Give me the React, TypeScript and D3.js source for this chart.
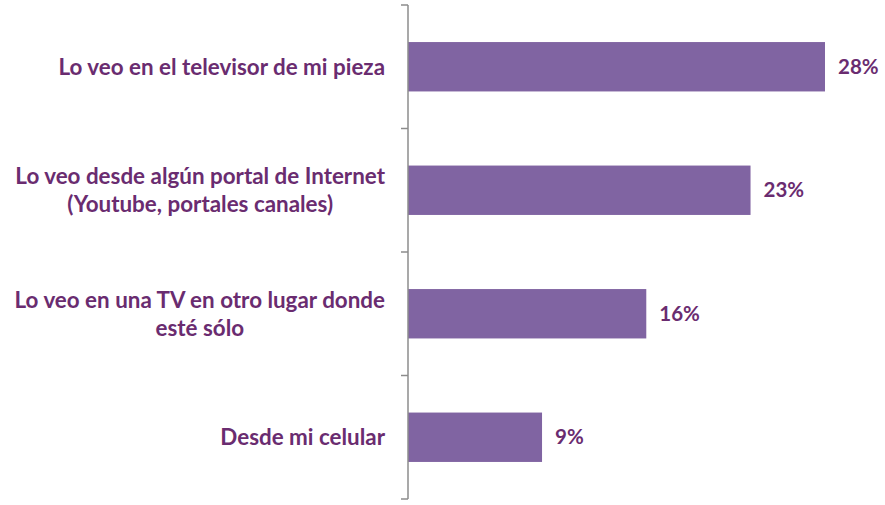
import React, { useEffect, useRef } from "react";
import * as d3 from "d3";

// categories (top to bottom) and values in %
const categories = [
  ["Lo veo en el televisor de mi pieza"],
  ["Lo veo desde algún portal de Internet", "(Youtube, portales canales)"],
  ["Lo veo en una TV en otro lugar donde", "esté sólo"],
  ["Desde mi celular"],
];
const values = [28, 23, 16, 9];
const valueLabels = ["28%", "23%", "16%", "9%"];

const BAR_COLOR = "#8064A2";
const TEXT_COLOR = "#6A2C70";
const AXIS_COLOR = "#8C8C8C";
const FONT = "Lato, 'Open Sans', sans-serif";

function App() {
  const svgRef = useRef<SVGSVGElement>(null);

  useEffect(() => {
    const svg = d3.select(svgRef.current);
    svg.selectAll("*").remove();

    const axisX = 408;
    const labelRight = 385;

    const keys = categories.map((c) => c.join(" "));

    const xScale = d3.scaleLinear().domain([0, 28]).range([axisX, 825]);

    const yScale = d3
      .scaleBand()
      .domain(keys)
      .range([5, 499])
      .paddingInner(0.6)
      .paddingOuter(0.3);

    const step = yScale.step();

    // bars
    svg
      .append("g")
      .selectAll("rect")
      .data(values)
      .join("rect")
      .attr("x", xScale(0))
      .attr("y", (d, i) => yScale(keys[i]))
      .attr("width", (d) => xScale(d) - xScale(0))
      .attr("height", yScale.bandwidth())
      .attr("fill", BAR_COLOR);

    // axis line with ticks between categories
    const ticks = d3.range(keys.length + 1).map((i) => 5 + i * step);
    const axis = svg.append("g").attr("stroke", AXIS_COLOR).attr("stroke-width", 1.5);
    axis
      .append("line")
      .attr("x1", axisX)
      .attr("x2", axisX)
      .attr("y1", ticks[0])
      .attr("y2", ticks[ticks.length - 1]);
    axis
      .selectAll(".tick")
      .data(ticks)
      .join("line")
      .attr("class", "tick")
      .attr("x1", axisX - 7)
      .attr("x2", axisX)
      .attr("y1", (d) => d)
      .attr("y2", (d) => d);

    // value labels
    svg
      .append("g")
      .selectAll("text")
      .data(values)
      .join("text")
      .attr("x", (d) => xScale(d) + 13)
      .attr("y", (d, i) => yScale(keys[i]) + yScale.bandwidth() / 2)
      .attr("dy", "0.35em")
      .attr("font-family", FONT)
      .attr("font-weight", "bold")
      .attr("font-size", 20.5)
      .attr("fill", TEXT_COLOR)
      .text((d, i) => valueLabels[i]);

    // category labels: lines centred on each other, block right-aligned
    const lineHeight = 28;
    categories.forEach((lines, i) => {
      const cy = yScale(keys[i]) + yScale.bandwidth() / 2;
      const g = svg.append("g");
      const texts = g
        .selectAll("text")
        .data(lines)
        .join("text")
        .attr("text-anchor", "middle")
        .attr("x", 0)
        .attr("y", (d, j) => cy + (j - (lines.length - 1) / 2) * lineHeight)
        .attr("dy", "0.35em")
        .attr("font-family", FONT)
        .attr("font-weight", "bold")
        .attr("font-size", 22.4)
        .attr("fill", TEXT_COLOR)
        .text((d) => d);
      let maxW = 0;
      texts.each(function () {
        maxW = Math.max(maxW, (this as SVGTextElement).getComputedTextLength());
      });
      g.attr("transform", `translate(${labelRight - maxW / 2},0)`);
    });
  }, []);

  return (
    <svg
      ref={svgRef}
      width={885}
      height={505}
      style={{ position: "absolute", left: 0, top: 0, background: "#fff" }}
    />
  );
}

export default App;
